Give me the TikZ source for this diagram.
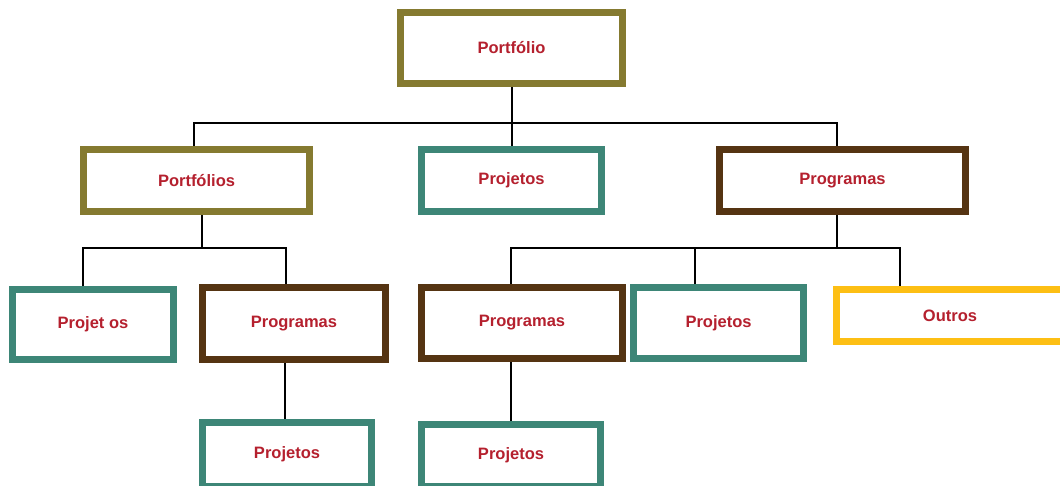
\documentclass[tikz,border=0pt]{standalone}
\usepackage{fontspec}
\setmainfont{Liberation Sans}
\definecolor{olive}{HTML}{857A30}
\definecolor{teal}{HTML}{3D8677}
\definecolor{brown}{HTML}{553412}
\definecolor{gold}{HTML}{FDBF14}
\definecolor{txtred}{HTML}{B5202E}
\tikzset{
  box/.style={draw,line width=7pt,fill=white,inner sep=0pt,
    font=\fontsize{16.5}{20}\selectfont\bfseries,text=txtred},
  link/.style={draw=black,line width=2pt}
}
\begin{document}
\begin{tikzpicture}[x=1pt,y=-1pt]
\useasboundingbox (0,0) rectangle (1060,485);
% level 0
\node[box,draw=olive,minimum width=222pt,minimum height=71pt] (top) at (511.5,48) {Portfólio};
% level 1
\node[box,draw=olive,minimum width=226pt,minimum height=62pt] (pfs) at (196.5,180.5) {Portfólios};
\node[box,draw=teal,minimum width=180pt,minimum height=62pt] (prj) at (511.5,180.5) {Projetos};
\node[box,draw=brown,minimum width=246pt,minimum height=62pt] (prg) at (842.5,180.5) {Programas};
% level 2
\node[box,draw=teal,minimum width=161pt,minimum height=70pt] (pj1) at (93,324.5) {Projet os};
\node[box,draw=brown,minimum width=183pt,minimum height=72pt] (pg1) at (294,323.5) {Programas};
\node[box,draw=brown,minimum width=201pt,minimum height=71pt] (pg2) at (522,323) {Programas};
\node[box,draw=teal,minimum width=170pt,minimum height=71pt] (pj2) at (718.5,323) {Projetos};
\node[box,draw=gold,minimum width=227pt,minimum height=52pt] (out) at (950,315.5) {Outros};
% level 3
\node[box,draw=teal,minimum width=169pt,minimum height=64pt] (pj3) at (287,454) {Projetos};
\node[box,draw=teal,minimum width=179pt,minimum height=62pt] (pj4) at (511,455) {Projetos};

\coordinate (hub1) at (511.5,123);
\coordinate (hub2) at (202,248);
\coordinate (hub3) at (837,248);

% connectors
\draw[link] (top.south) -- (prj.north);
\draw[link] ([xshift=-2.5pt]pfs.north) |- (hub1) -| ([xshift=-5.5pt]prg.north);

\draw[link] ([xshift=5.5pt]pfs.south) -- (hub2);
\draw[link] ([xshift=-10pt]pj1.north) |- (hub2) -| ([xshift=-8.5pt]pg1.north);

\draw[link] ([xshift=-5.5pt]prg.south) -- (hub3);
\draw[link] ([xshift=-11pt]pg2.north) |- (hub3) -| ([xshift=-50pt]out.north);
\draw[link] ([xshift=-23.5pt]pj2.north) -- ([xshift=-23.5pt]pj2.north |- hub3);

\draw[link] ([xshift=-9pt]pg1.south) -- ([xshift=-2pt]pj3.north);
\draw[link] ([xshift=-11pt]pg2.south) -- (pj4.north);
\end{tikzpicture}
\end{document}
